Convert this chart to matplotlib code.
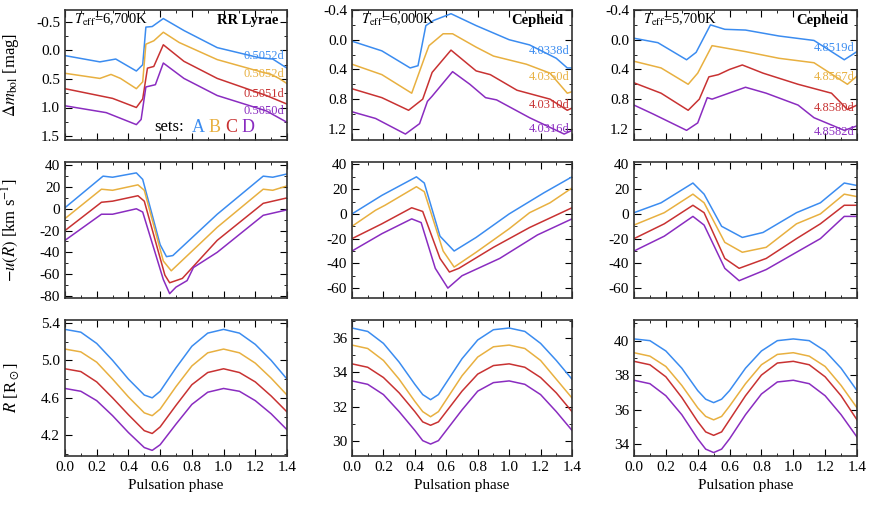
import matplotlib
matplotlib.use("Agg")
import matplotlib.pyplot as plt
from matplotlib.ticker import MultipleLocator, FixedLocator, FormatStrFormatter

plt.rcParams.update({"font.family": "serif", "font.serif": ["Liberation Serif"],
                     "mathtext.fontset": "stix", "font.size": 11,
                     "axes.unicode_minus": False})

colors = ["#3b8cf0", "#e8b040", "#c83232", "#8a2cc0"]
set_names = ["A", "B", "C", "D"]

# ---------- light curves (phase, delta m_bol) ----------
lc_rr = [
    ([0, .22, .32, .45, .49, .51, .55, .62, .75, .96, 1.23, 1.31, 1.4],
     [.09, .2, .15, .36, .25, -.41, -.42, -.56, -.35, -.05, .13, .15, .31]),
    ([0, .22, .29, .35, .45, .49, .51, .56, .62, .72, .96, 1.23, 1.3, 1.35, 1.4],
     [.4, .49, .42, .49, .67, .55, -.11, -.17, -.32, -.14, .16, .37, .42, .49, .58]),
    ([0, .3, .45, .49, .52, .56, .62, .75, .96, 1.27, 1.4],
     [.67, .84, 1.0, .85, .31, .28, -.1, .19, .49, .79, .94]),
    ([0, .26, .45, .48, .51, .57, .62, .75, .96, 1.27, 1.4],
     [.97, 1.09, 1.3, 1.21, .64, .6, .22, .49, .79, 1.06, 1.26]),
]
lc_c6 = [
    ([0, .19, .37, .42, .47, .52, .63, .79, 1.0, 1.13, 1.3, 1.37, 1.4],
     [.02, .15, .38, .35, -.19, -.26, -.35, -.19, 0, .07, .25, .38, .38]),
    ([0, .19, .38, .46, .49, .58, .64, .79, .9, 1.11, 1.26, 1.37, 1.4],
     [.33, .47, .72, .25, .08, -.08, -.08, .1, .22, .33, .45, .72, .7]),
    ([0, .19, .36, .45, .51, .63, .79, .88, 1.05, 1.26, 1.37, 1.4],
     [.66, .78, .95, .8, .44, .14, .42, .47, .68, .8, .95, .92]),
    ([0, .15, .34, .43, .48, .51, .64, .75, .85, .92, 1.13, 1.35, 1.4],
     [.97, 1.06, 1.27, 1.13, .83, .76, .43, .6, .78, .81, 1.05, 1.27, 1.22]),
]
lc_c57 = [
    ([0, .15, .33, .39, .48, .57, .7, .91, 1.13, 1.32, 1.4],
     [-.02, .04, .27, .17, -.2, -.14, -.13, -.05, .01, .27, .16]),
    ([0, .17, .34, .4, .49, .7, .91, 1.13, 1.34, 1.4],
     [.29, .38, .6, .45, .08, .16, .25, .31, .6, .49]),
    ([0, .17, .34, .41, .47, .53, .6, .68, .81, 1.03, 1.24, 1.34, 1.4],
     [.58, .72, .95, .8, .5, .47, .4, .34, .45, .6, .72, .94, .88]),
    ([0, .12, .33, .4, .46, .49, .7, .83, 1.03, 1.13, 1.32, 1.4],
     [.88, 1.0, 1.22, 1.12, .78, .8, .64, .72, .88, 1.05, 1.22, 1.16]),
]

# ---------- velocity curves (phase, -u) ----------
vel_rr = [
    ([0, .24, .3, .45, .49, .6, .64, .68, .96, 1.25, 1.31, 1.4],
     [1, 30, 29, 33, 27, -33, -44, -43, -5, 30, 29, 32]),
    ([0, .23, .3, .46, .5, .62, .67, .96, 1.25, 1.31, 1.4],
     [-9, 18, 17, 22, 17, -48, -57, -17, 18, 17, 21]),
    ([0, .23, .3, .46, .5, .63, .66, .74, .96, 1.25, 1.4],
     [-20, 6, 7, 12, 7, -61, -68, -64, -29, 5, 10]),
    ([0, .23, .3, .45, .49, .62, .66, .7, .77, .81, .96, 1.25, 1.4],
     [-29, -5, -5, 0, -3, -65, -78, -72, -66, -54, -40, -6, -1]),
]
vel_c6 = [
    ([0, .19, .41, .46, .56, .65, .79, 1.0, 1.22, 1.4],
     [0, 15, 30, 25, -18, -30, -19, 0, 17, 30]),
    ([0, .15, .21, .41, .46, .58, .65, .79, 1.0, 1.13, 1.26, 1.4],
     [-10, 3, 7, 22, 18, -30, -43, -31, -12, 1, 9, 21]),
    ([0, .19, .38, .45, .56, .62, .68, .9, 1.13, 1.4],
     [-20, -8, 5, 2, -36, -47, -44, -27, -11, 5]),
    ([0, .19, .38, .44, .53, .61, .7, .94, 1.18, 1.4],
     [-30, -16, -4, -7, -44, -60, -50, -36, -17, -4]),
]
vel_c57 = [
    ([0, .17, .37, .44, .55, .68, .81, 1.02, 1.17, 1.32, 1.4],
     [1, 9, 25, 16, -10, -19, -15, 1, 9, 25, 23]),
    ([0, .19, .37, .44, .57, .68, .83, 1.02, 1.17, 1.32, 1.4],
     [-9, 1, 16, 9, -23, -31, -27, -8, 0, 16, 14]),
    ([0, .19, .37, .44, .57, .66, .83, 1.02, 1.17, 1.32, 1.4],
     [-20, -8, 7, 1, -36, -44, -36, -20, -8, 7, 7]),
    ([0, .19, .37, .44, .57, .66, .83, 1.02, 1.17, 1.32, 1.4],
     [-30, -18, -2, -9, -44, -54, -45, -31, -20, -2, -2]),
]

# ---------- radius curves (phase, R) ----------
r_phase_rr = [0, .1, .2, .3, .4, .5, .55, .6, .7, .8, .9, 1.0, 1.1, 1.2, 1.3, 1.4]
rad_rr = [
    [5.33, 5.30, 5.18, 5.00, 4.80, 4.63, 4.60, 4.67, 4.92, 5.15, 5.29, 5.33, 5.29, 5.17, 5.00, 4.80],
    [5.12, 5.09, 4.98, 4.80, 4.61, 4.44, 4.41, 4.48, 4.72, 4.94, 5.08, 5.12, 5.08, 4.97, 4.81, 4.63],
    [4.91, 4.88, 4.77, 4.60, 4.42, 4.25, 4.22, 4.29, 4.52, 4.74, 4.87, 4.91, 4.87, 4.77, 4.62, 4.45],
    [4.70, 4.67, 4.57, 4.41, 4.23, 4.07, 4.04, 4.10, 4.32, 4.53, 4.66, 4.70, 4.67, 4.57, 4.43, 4.26],
]
r_phase_c = [0, .1, .2, .3, .4, .45, .5, .55, .6, .7, .8, .9, 1.0, 1.1, 1.2, 1.3, 1.4]
rad_c6 = [
    [36.6, 36.4, 35.7, 34.6, 33.3, 32.7, 32.4, 32.7, 33.4, 34.8, 35.9, 36.5, 36.6, 36.4, 35.7, 34.7, 33.6],
    [35.6, 35.4, 34.7, 33.6, 32.3, 31.7, 31.4, 31.7, 32.4, 33.8, 34.9, 35.5, 35.6, 35.4, 34.7, 33.6, 32.5],
    [34.5, 34.3, 33.7, 32.8, 31.7, 31.1, 30.9, 31.1, 31.7, 32.9, 33.9, 34.4, 34.5, 34.3, 33.7, 32.8, 31.7],
    [33.5, 33.3, 32.7, 31.7, 30.6, 30.0, 29.8, 30.0, 30.6, 31.8, 32.9, 33.4, 33.5, 33.3, 32.7, 31.7, 30.6],
]
rad_c57 = [
    [40.1, 40.0, 39.4, 38.4, 37.1, 36.6, 36.4, 36.6, 37.1, 38.4, 39.4, 40.0, 40.1, 40.0, 39.4, 38.4, 37.1],
    [39.3, 39.1, 38.5, 37.4, 36.1, 35.6, 35.4, 35.6, 36.2, 37.5, 38.6, 39.2, 39.3, 39.1, 38.5, 37.4, 36.1],
    [38.8, 38.6, 37.9, 36.7, 35.3, 34.7, 34.5, 34.7, 35.4, 36.8, 38.0, 38.7, 38.8, 38.6, 37.9, 36.8, 35.4],
    [37.7, 37.5, 36.8, 35.7, 34.3, 33.7, 33.5, 33.7, 34.3, 35.7, 36.9, 37.6, 37.7, 37.5, 36.8, 35.7, 34.4],
]

periods = [["0.5052d", "0.5052d", "0.5051d", "0.5050d"],
           ["4.0338d", "4.0350d", "4.0310d", "4.0316d"],
           ["4.8519d", "4.8567d", "4.8580d", "4.8582d"]]
period_y = [[0.1, 0.42, 0.76, 1.07], [0.15, 0.5, 0.88, 1.2], [0.11, 0.5, 0.92, 1.24]]
teffs = ["6,700K", "6,000K", "5,700K"]
types = ["RR Lyrae", "Cepheid", "Cepheid"]
rr_radius_ticks = [4.2, 4.6, 5.0, 5.4]

fig = plt.figure(figsize=(8.72, 5.05), dpi=100)
lefts = [65, 352, 634]
widths = [222, 220, 223]
tops = [10, 162, 320]
heights = [130, 136, 136]

lcs = [lc_rr, lc_c6, lc_c57]
vels = [vel_rr, vel_c6, vel_c57]
rads = [(r_phase_rr, rad_rr), (r_phase_c, rad_c6), (r_phase_c, rad_c57)]
ylims = [[(1.57, -0.71), (1.35, -0.4), (1.35, -0.4)],
         [(-82, 43), (-68, 42), (-68, 42)],
         [(3.98, 5.43), (29.1, 37.07), (33.3, 41.2)]]
ymaj = [[0.5, 0.4, 0.4], [20, 20, 20], [0.4, 2, 2]]
ymin = [[0.25, 0.2, 0.2], [10, 10, 10], [0.2, 1, 1]]

for c in range(3):
    for r in range(3):
        ax = fig.add_axes([lefts[c] / 872, 1 - (tops[r] + heights[r]) / 505,
                           widths[c] / 872, heights[r] / 505])
        if r == 0:
            for i, (x, y) in enumerate(lcs[c]):
                ax.plot(x, y, color=colors[i], lw=1.1)
                ax.text(1.385, period_y[c][i], periods[c][i], color=colors[i],
                        fontsize=9, ha="right", va="center")
            ax.text(0.04, 0.92, r"$T_{\rm eff}$=" + teffs[c], transform=ax.transAxes,
                    fontsize=10.5, va="center")
            ax.text(0.96, 0.92, types[c], transform=ax.transAxes, fontsize=10.5,
                    fontweight="bold", ha="right", va="center")
        elif r == 1:
            for i, (x, y) in enumerate(vels[c]):
                ax.plot(x, y, color=colors[i], lw=1.1)
        else:
            ph, rv = rads[c]
            for i, y in enumerate(rv):
                ax.plot(ph, y, color=colors[i], lw=1.1)
        ax.set_xlim(0, 1.4)
        ax.set_ylim(*ylims[r][c])
        ax.xaxis.set_major_locator(MultipleLocator(0.2))
        ax.xaxis.set_minor_locator(MultipleLocator(0.1))
        if r == 2 and c == 0:
            ax.yaxis.set_major_locator(FixedLocator(rr_radius_ticks))
        else:
            ax.yaxis.set_major_locator(MultipleLocator(ymaj[r][c]))
        ax.yaxis.set_minor_locator(MultipleLocator(ymin[r][c]))
        ax.tick_params(which="both", direction="in", top=True, right=True, labelsize=11)
        ax.tick_params(which="major", length=5)
        ax.tick_params(which="minor", length=2.5)
        for s in ax.spines.values():
            s.set_linewidth(1.2)
            s.set_color("#333333")
        if r == 2:
            ax.set_xlabel("Pulsation phase", fontsize=11)
            ax.xaxis.set_major_formatter(FormatStrFormatter("%.1f"))
        else:
            ax.set_xticklabels([])
        if r == 0 or (r == 2 and c == 0):
            ax.yaxis.set_major_formatter(FormatStrFormatter("%.1f"))
        if c == 0:
            lab = [r"$\Delta m_{\rm bol}$ [mag]", r"$-u(R)$ [km s$^{-1}$]",
                   r"$R$ [R$_\odot$]"][r]
            ax.set_ylabel(lab, fontsize=12)
            ax.yaxis.set_label_coords(-0.2, 0.5)
        if r == 0 and c == 0:
            xs = 0.4
            ax.text(xs, 0.1, "sets:", transform=ax.transAxes, fontsize=12, va="center")
            for i, n in enumerate(set_names):
                ax.text(xs + 0.17 + i * 0.075, 0.1, n, color=colors[i],
                        transform=ax.transAxes, fontsize=13, va="center")

fig.savefig("out.png", dpi=100)
